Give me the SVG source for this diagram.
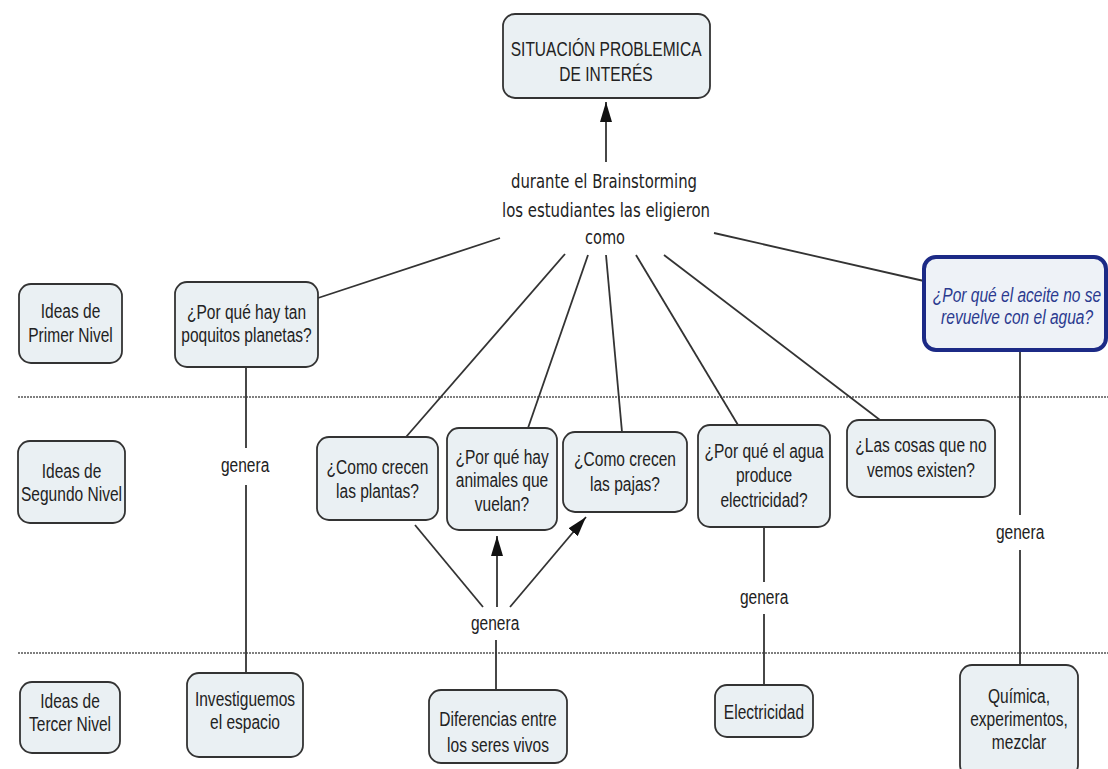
<svg xmlns="http://www.w3.org/2000/svg" width="1108" height="769" viewBox="0 0 1108 769">
<style>
.box{fill:#eaf0f3;stroke:#333;stroke-width:1.8}
.hl{fill:#eef2f7;stroke:#1c2a86;stroke-width:4}
.t,.ti{font-family:"Liberation Sans",Arial,sans-serif;font-size:21px;fill:#222;text-anchor:middle;transform-box:fill-box;transform-origin:center;transform:scaleX(0.74)}
.ti{fill:#2b3a8f;font-style:italic}
.c{font-family:"DejaVu Sans Condensed","DejaVu Sans",sans-serif;font-size:20px;fill:#222;text-anchor:middle}
.ln{stroke:#333;stroke-width:1.8;fill:none}
.dot{stroke:#555;stroke-width:1.5;stroke-dasharray:2 1;fill:none}
</style>
<defs>
<marker id="arr" viewBox="0 0 20 12" refX="20" refY="6" markerWidth="20" markerHeight="12" markerUnits="userSpaceOnUse" orient="auto">
<path d="M0,0 L20,6 L0,12 Z" fill="#111"/>
</marker>
</defs>
<rect width="1108" height="769" fill="#fff"/>
<g id="dividers">
<line class="dot" x1="18" y1="397" x2="1108" y2="397"/>
<line class="dot" x1="18" y1="653" x2="1108" y2="653"/>
</g>
<g id="connectors">
<line class="ln" x1="606" y1="162" x2="606" y2="102" marker-end="url(#arr)"/>
<text class="c" x="604" y="188" textLength="186" lengthAdjust="spacingAndGlyphs">durante el Brainstorming</text>
<text class="c" x="606" y="217" textLength="208" lengthAdjust="spacingAndGlyphs">los estudiantes las eligieron</text>
<text class="c" x="605" y="244" textLength="40" lengthAdjust="spacingAndGlyphs">como</text>
<line class="ln" x1="500" y1="238" x2="318" y2="298"/>
<line class="ln" x1="565" y1="254" x2="406" y2="437"/>
<line class="ln" x1="588" y1="255" x2="528" y2="428"/>
<line class="ln" x1="606" y1="255" x2="622" y2="432"/>
<line class="ln" x1="636" y1="255" x2="738" y2="425"/>
<line class="ln" x1="664" y1="255" x2="880" y2="420"/>
<line class="ln" x1="714" y1="233" x2="924" y2="281"/>
<line class="ln" x1="246" y1="367" x2="246" y2="448"/>
<text class="t" x="245" y="472">genera</text>
<line class="ln" x1="246" y1="485" x2="246" y2="673"/>
<line class="ln" x1="1020" y1="352" x2="1020" y2="515"/>
<text class="t" x="1020" y="539">genera</text>
<line class="ln" x1="1020" y1="550" x2="1020" y2="665"/>
<line class="ln" x1="764" y1="527" x2="764" y2="582"/>
<text class="t" x="764" y="604">genera</text>
<line class="ln" x1="764" y1="614" x2="764" y2="685"/>
<text class="t" x="495" y="630">genera</text>
<line class="ln" x1="496" y1="640" x2="496" y2="690"/>
<line class="ln" x1="483" y1="607" x2="415" y2="525"/>
<line class="ln" x1="497" y1="607" x2="497" y2="536" marker-end="url(#arr)"/>
<line class="ln" x1="510" y1="607" x2="586" y2="517" marker-end="url(#arr)"/>
</g>
<g id="n-situacion">
<rect class="box" x="503" y="14" width="207" height="84" rx="12"/>
<text class="t" x="606" y="56">SITUACIÓN PROBLEMICA</text>
<text class="t" x="606" y="81">DE INTERÉS</text>
</g>
<g id="n-ideas1">
<rect class="box" x="19" y="284" width="103" height="79" rx="12"/>
<text class="t" x="70.5" y="318">Ideas de</text>
<text class="t" x="70.5" y="342">Primer Nivel</text>
</g>
<g id="n-planetas">
<rect class="box" x="175" y="282" width="143" height="85" rx="12"/>
<text class="t" x="246.5" y="319">¿Por qué hay tan</text>
<text class="t" x="246.5" y="342">poquitos planetas?</text>
</g>
<g id="n-aceite">
<rect class="hl" x="924" y="257" width="182" height="93" rx="12"/>
<text class="ti" x="1017" y="302">¿Por qué el aceite no se</text>
<text class="ti" x="1017" y="324">revuelve con el agua?</text>
</g>
<g id="n-ideas2">
<rect class="box" x="18" y="441" width="107" height="82" rx="12"/>
<text class="t" x="71.5" y="478">Ideas de</text>
<text class="t" x="71.5" y="501">Segundo Nivel</text>
</g>
<g id="n-plantas">
<rect class="box" x="317" y="437" width="121" height="83" rx="12"/>
<text class="t" x="377.5" y="474">¿Como crecen</text>
<text class="t" x="377.5" y="498">las plantas?</text>
</g>
<g id="n-animales">
<rect class="box" x="447" y="428" width="110" height="102" rx="12"/>
<text class="t" x="502" y="464">¿Por qué hay</text>
<text class="t" x="502" y="487">animales que</text>
<text class="t" x="502" y="511">vuelan?</text>
</g>
<g id="n-pajas">
<rect class="box" x="563" y="432" width="124" height="80" rx="12"/>
<text class="t" x="625" y="466">¿Como crecen</text>
<text class="t" x="625" y="491">las pajas?</text>
</g>
<g id="n-agua">
<rect class="box" x="698" y="425" width="132" height="102" rx="12"/>
<text class="t" x="764" y="458">¿Por qué el agua</text>
<text class="t" x="764" y="482">produce</text>
<text class="t" x="764" y="507">electricidad?</text>
</g>
<g id="n-cosas">
<rect class="box" x="847" y="420" width="148" height="77" rx="12"/>
<text class="t" x="921" y="452">¿Las cosas que no</text>
<text class="t" x="921" y="477">vemos existen?</text>
</g>
<g id="n-ideas3">
<rect class="box" x="20" y="682" width="100" height="71" rx="12"/>
<text class="t" x="70" y="708">Ideas de</text>
<text class="t" x="70" y="731">Tercer Nivel</text>
</g>
<g id="n-investiguemos">
<rect class="box" x="187" y="673" width="116" height="84" rx="12"/>
<text class="t" x="245" y="706">Investiguemos</text>
<text class="t" x="245" y="729">el espacio</text>
</g>
<g id="n-diferencias">
<rect class="box" x="429" y="690" width="138" height="73" rx="12"/>
<text class="t" x="498" y="726">Diferencias entre</text>
<text class="t" x="498" y="752">los seres vivos</text>
</g>
<g id="n-electricidad">
<rect class="box" x="715" y="685" width="98" height="52" rx="12"/>
<text class="t" x="764" y="719">Electricidad</text>
</g>
<g id="n-quimica">
<rect class="box" x="960" y="665" width="118" height="112" rx="12"/>
<text class="t" x="1019" y="703">Química,</text>
<text class="t" x="1019" y="726">experimentos,</text>
<text class="t" x="1019" y="749">mezclar</text>
</g>
</svg>
